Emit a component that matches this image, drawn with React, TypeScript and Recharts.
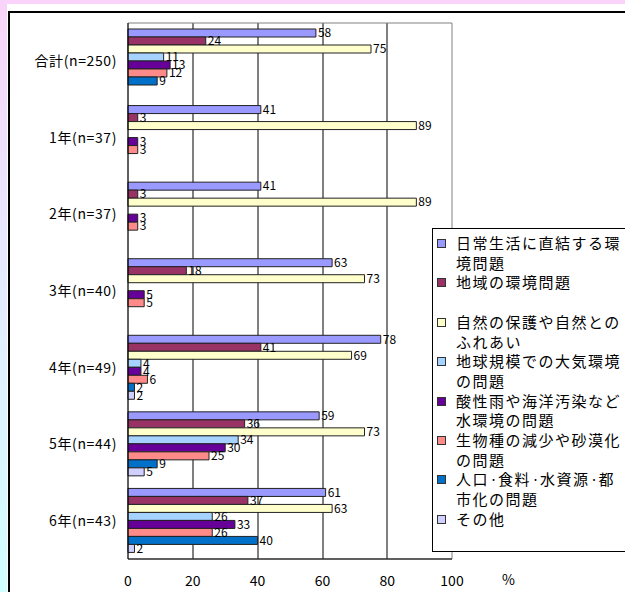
import { BarChart, Bar, XAxis, YAxis, CartesianGrid, LabelList, Legend, ReferenceArea } from "recharts";

const categories = [
  "合計(n=250)",
  "1年(n=37)",
  "2年(n=37)",
  "3年(n=40)",
  "4年(n=49)",
  "5年(n=44)",
  "6年(n=43)",
];

const nichijo = [58, 41, 41, 63, 78, 59, 61];
const chiiki = [24, 3, 3, 18, 41, 36, 37];
const shizen = [75, 89, 89, 73, 69, 73, 63];
const taiki = [11, null, null, null, 4, 34, 26];
const mizu = [13, 3, 3, 5, 4, 30, 33];
const seibutsu = [12, 3, 3, 5, 6, 25, 26];
const jinko = [9, null, null, null, 2, 9, 40];
const sonota = [null, null, null, null, 2, 5, 2];

const xTicks = [0, 20, 40, 60, 80, 100];

const series = [
  { key: "nichijo", name: "日常生活に直結する環\n境問題", color: "#9999FF", values: nichijo },
  { key: "chiiki", name: "地域の環境問題\n ", color: "#993366", values: chiiki },
  { key: "shizen", name: "自然の保護や自然との\nふれあい", color: "#FFFFCC", values: shizen },
  { key: "taiki", name: "地球規模での大気環境\nの問題", color: "#A6D2FF", values: taiki },
  { key: "mizu", name: "酸性雨や海洋汚染など\n水環境の問題", color: "#660099", values: mizu },
  { key: "seibutsu", name: "生物種の減少や砂漠化\nの問題", color: "#FF8A8A", values: seibutsu },
  { key: "jinko", name: "人口・食料・水資源・都\n市化の問題", color: "#0070C8", values: jinko },
  { key: "sonota", name: "その他", color: "#D0D0FF", values: sonota },
];

const data = categories.map((name, i) => {
  const row: Record<string, any> = { name };
  series.forEach((s) => {
    row[s.key] = s.values[i];
  });
  return row;
});

const font = '"Noto Sans CJK JP", "Noto Sans", sans-serif';

// the original uses a proportional font where the middle dot is narrow
function narrowDots(text: string) {
  const parts = text.split("・");
  return parts.map((p, i) => (
    <span key={i}>
      {p}
      {i < parts.length - 1 && (
        <span style={{ fontSize: 9, letterSpacing: 0, lineHeight: 0, position: "relative", top: -2 }}>・</span>
      )}
    </span>
  ));
}

function LegendBox() {
  return (
    <div
      style={{
        border: "1px solid #000",
        background: "#fff",
        boxSizing: "border-box",
        width: 200,
        height: 324,
        padding: "4px 0 0 4px",
        fontFamily: font,
        fontSize: 15,
        lineHeight: "19.7px",
        letterSpacing: 1.5,
        color: "#000",
      }}
    >
      {series.map((s) => (
        <div key={s.key} style={{ display: "flex", alignItems: "flex-start" }}>
          <span
            style={{
              display: "inline-block",
              width: 7,
              height: 7,
              marginTop: 6,
              marginRight: 10,
              border: "1px solid #333",
              background: s.color,
              flexShrink: 0,
            }}
          />
          <span style={{ whiteSpace: "pre" }}>{narrowDots(s.name)}</span>
        </div>
      ))}
    </div>
  );
}

export default function App() {
  return (
    <div
      style={{
        position: "absolute",
        left: 0,
        top: 0,
        width: 625,
        height: 592,
        overflow: "hidden",
        background: "#fff",
      }}
    >
      <div style={{ position: "absolute", left: 0, top: 0, width: 625, height: 4, background: "#F9D3F9" }} />
      <div
        style={{
          position: "absolute",
          left: 0,
          top: 0,
          width: 7,
          height: 592,
          background: "linear-gradient(#F9D3F9, #E8E8FF 40%, #D0FFFF)",
        }}
      />
      <div
        style={{
          position: "absolute",
          left: 8,
          top: 11,
          width: 640,
          height: 600,
          borderLeft: "2px solid #000",
          borderTop: "2px solid #000",
          background: "#fff",
        }}
      />
      <div style={{ position: "absolute", left: 0, top: 0 }}>
        <BarChart
          width={625}
          height={592}
          data={data}
          layout="vertical"
          margin={{ top: 23, right: 173, bottom: 0, left: 0 }}
          barCategoryGap={6}
          barGap={0}
        >
          <ReferenceArea x1={0} x2={100} fill="none" stroke="#808080" strokeWidth={1} ifOverflow="visible" />
          <CartesianGrid horizontal={false} stroke="#000" verticalPoints={[193, 258, 323, 387]} />
          <XAxis
            type="number"
            domain={[0, 100]}
            ticks={xTicks}
            interval={0}
            height={33}
            tickSize={0}
            tickMargin={17}
            axisLine={{ stroke: "#000" }}
            tick={{ fill: "#000", fontSize: 14, fontFamily: font }}
          />
          <YAxis
            type="category"
            dataKey="name"
            width={128}
            tickSize={0}
            tickMargin={11}
            axisLine={{ stroke: "#000" }}
            tick={{ fill: "#000", fontSize: 14, fontFamily: font, letterSpacing: 0.6 }}
          />
          {series.map((s) => (
            <Bar
              key={s.key}
              dataKey={s.key}
              name={s.name}
              fill={s.color}
              stroke="#222"
              strokeWidth={1}
              isAnimationActive={false}
            >
              <LabelList
                dataKey={s.key}
                position="right"
                offset={2}
                fill="#000"
                fontSize={12}
                fontFamily={font}
                formatter={(v: any) => (v == null ? "" : v)}
              />
            </Bar>
          ))}
          <Legend
            layout="horizontal"
            verticalAlign="middle"
            align="center"
            wrapperStyle={{ left: 432, top: 228, width: 200, height: 324 }}
            content={() => <LegendBox />}
          />
        </BarChart>
      </div>
      <div
        style={{
          position: "absolute",
          left: 502,
          top: 569,
          fontFamily: font,
          fontSize: 14,
          color: "#000",
        }}
      >
        %
      </div>
    </div>
  );
}
